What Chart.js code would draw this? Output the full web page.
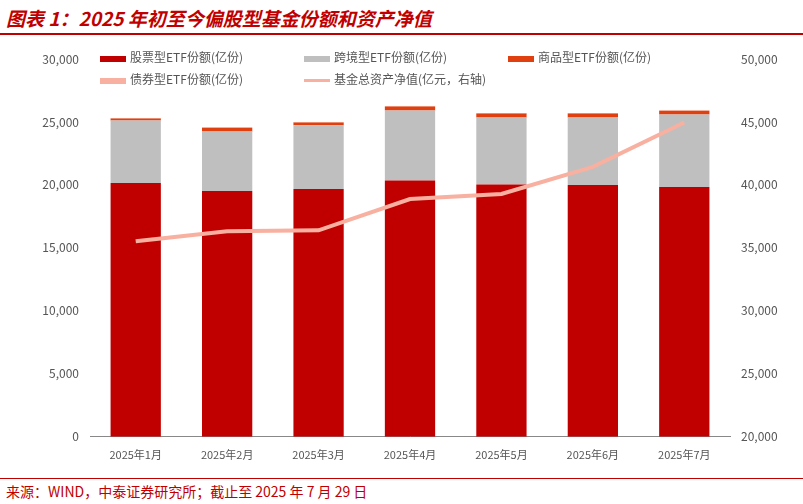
<!DOCTYPE html><html><head><meta charset="utf-8">
<script src="https://cdn.jsdelivr.net/npm/chart.js@4"></script>
<style>
body{margin:0;width:803px;height:504px;background:#fff;font-family:"Noto Sans CJK SC",sans-serif;position:relative;overflow:hidden}
#title{position:absolute;left:6px;top:4px;font-size:19px;font-weight:bold;font-style:italic;color:#c00000}
#tl{position:absolute;left:0;top:33px;width:803px;height:2px;background:#c00000}
#bl{position:absolute;left:0;top:478px;width:803px;height:1px;background:#c00000}
#src{position:absolute;left:6px;top:481px;font-size:14px;color:#c00000}
#wrap{position:absolute;left:0;top:40px;width:803px;height:432px}
#leg{position:absolute;left:100px;top:48px;font-size:12px;color:#555}
.it{position:absolute;white-space:nowrap}
.sw{display:inline-block;width:26px;height:6px;vertical-align:middle;margin-right:4px}
</style></head><body>
<div id="title">图表 1：2025 年初至今偏股型基金份额和资产净值</div><div id="tl"></div>
<div id="wrap"><canvas id="c" width="803" height="432"></canvas></div>
<div id="leg">
<div class="it" style="left:0;top:0"><span class="sw" style="background:#c00000"></span>股票型ETF份额(亿份)</div>
<div class="it" style="left:204px;top:0"><span class="sw" style="background:#bfbfbf"></span>跨境型ETF份额(亿份)</div>
<div class="it" style="left:408px;top:0"><span class="sw" style="background:#e04010"></span>商品型ETF份额(亿份)</div>
<div class="it" style="left:0;top:22px"><span class="sw" style="background:#f8b0a0"></span>债券型ETF份额(亿份)</div>
<div class="it" style="left:204px;top:22px"><span class="sw" style="background:#f8b0a0;height:3px"></span>基金总资产净值(亿元，右轴)</div>
</div>
<div id="bl"></div>
<div id="src">来源：WIND，中泰证券研究所；截止至 2025 年 7 月 29 日</div>
<script>
const labels=["2025年1月","2025年2月","2025年3月","2025年4月","2025年5月","2025年6月","2025年7月"];
const stock=[20160,19520,19680,20360,20040,20000,19840];
const cross=[4960,4720,5060,5560,5320,5360,5760];
const commodity=[150,300,220,300,320,320,300];
const bond=[40,40,40,40,40,40,40];
const nav=[35520,36320,36400,38880,39280,41440,44960];
Chart.defaults.font.family='"Noto Sans CJK SC",sans-serif';
Chart.defaults.color='#555';
new Chart(document.getElementById('c'),{data:{labels,datasets:[
{type:'line',data:nav,yAxisID:'y2',borderColor:'#f8b0a0',borderWidth:4,pointRadius:0,tension:0},
{type:'bar',data:stock,backgroundColor:'#c00000',stack:'s',barPercentage:0.55,categoryPercentage:1},
{type:'bar',data:cross,backgroundColor:'#bfbfbf',stack:'s',barPercentage:0.55,categoryPercentage:1},
{type:'bar',data:commodity,backgroundColor:'#e04010',stack:'s',barPercentage:0.55,categoryPercentage:1},
{type:'bar',data:bond,backgroundColor:'#f8b0a0',stack:'s',barPercentage:0.55,categoryPercentage:1}]},
options:{responsive:false,animation:false,layout:{padding:{left:0,right:0,top:19,bottom:8}},
plugins:{legend:{display:false},tooltip:{enabled:false}},
scales:{x:{stacked:true,grid:{display:false},border:{color:'#888'},ticks:{font:{size:11}}},
y:{stacked:true,min:0,max:30000,ticks:{stepSize:5000,font:{size:12},callback:v=>v.toLocaleString('en-US')},grid:{display:false},border:{display:false},afterFit:s=>{s.width=90}},
y2:{position:'right',min:20000,max:50000,ticks:{stepSize:5000,font:{size:12},callback:v=>v.toLocaleString('en-US')},grid:{display:false},border:{display:false},afterFit:s=>{s.width=73}}}}});
</script>
</body></html>
